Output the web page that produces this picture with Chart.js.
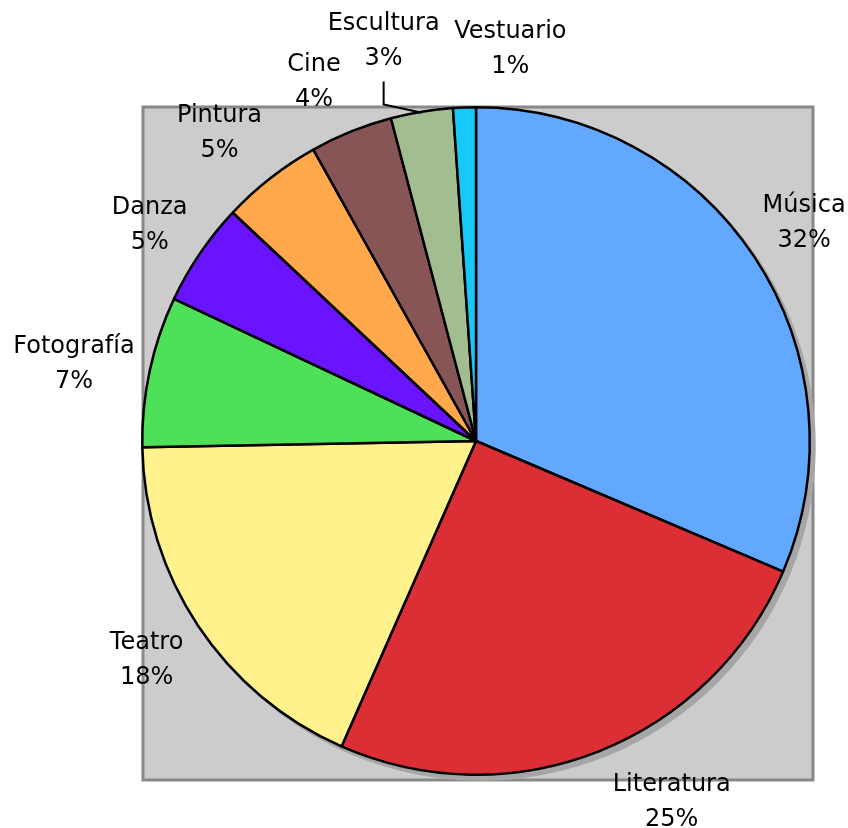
<!DOCTYPE html>
<html>
<head>
<meta charset="utf-8">
<script src="https://cdn.jsdelivr.net/npm/chart.js@4"></script>
<style>
    html, body { margin: 0; padding: 0; background: #fff; }
    #wrap { width: 848px; height: 828px; }
</style>
</head>
<body>
<div id="wrap"><canvas id="myChart" width="848" height="828"></canvas></div>
<script>
'use strict';

// categories and shares (percent), clockwise from 12 o'clock
const categories = ['Música', 'Literatura', 'Teatro', 'Fotografía', 'Danza', 'Pintura', 'Cine', 'Escultura', 'Vestuario'];
const shares = [31.4, 25.2, 18.1, 7.3, 5.0, 4.9, 4.0, 3.0, 1.1];
const percentLabels = ['32%', '25%', '18%', '7%', '5%', '5%', '4%', '3%', '1%'];
const sliceColors = ['#62a8ff', '#dc2f35', '#fff28c', '#4fe05a', '#6a13ff', '#ffa84c', '#875555', '#a2bd8f', '#18c8f8'];

// small hand nudges for the labels that don't sit on the mid-angle
const labelNudge = {
    'Literatura': [50, -7],
    'Escultura': [-28, -9],
    'Vestuario': [48, 4],
    'Cine': [-14, 8],
    'Pintura': [-13, 4],
    'Danza': [1, 7],
    'Fotografía': [-15, 6],
    'Música': [-2, 1],
};

const backdrop = {
    id: 'backdrop',
    beforeDraw(chart) {
        const { ctx, chartArea: a } = chart;
        ctx.save();
        ctx.fillStyle = '#cccccc';
        ctx.fillRect(a.left + 2, a.top + 1, a.width, a.height + 3);
        ctx.strokeStyle = '#888888';
        ctx.lineWidth = 3;
        ctx.strokeRect(a.left + 2, a.top + 1, a.width, a.height + 3);
        ctx.restore();
    },
    beforeDatasetsDraw(chart) {
        const arc = chart.getDatasetMeta(0).data[0];
        if (!arc) return;
        const ctx = chart.ctx;
        ctx.save();
        ctx.fillStyle = '#a6a6a6';
        ctx.beginPath();
        ctx.arc(arc.x + 5, arc.y + 5, arc.outerRadius + 1, 0, Math.PI * 2);
        ctx.fill();
        ctx.restore();
    },
};

const outerLabels = {
    id: 'outerLabels',
    afterDatasetsDraw(chart) {
        const ctx = chart.ctx;
        const meta = chart.getDatasetMeta(0);
        ctx.save();
        ctx.font = '24px "DejaVu Sans"';
        ctx.fillStyle = '#000';
        ctx.textAlign = 'center';
        ctx.textBaseline = 'middle';
        meta.data.forEach((arc, i) => {
            const mid = (arc.startAngle + arc.endAngle) / 2;
            const r = arc.outerRadius + 62;
            const nudge = labelNudge[categories[i]] || [0, 0];
            const x = arc.x + Math.cos(mid) * r + nudge[0];
            const y = arc.y + Math.sin(mid) * r + nudge[1];
            ctx.fillText(categories[i], x, y - 17.5);
            ctx.fillText(percentLabels[i], x, y + 17.5);

            if (categories[i] === 'Escultura') {
                const ex = arc.x + Math.cos(mid) * (arc.outerRadius - 1);
                const ey = arc.y + Math.sin(mid) * (arc.outerRadius - 1);
                ctx.strokeStyle = '#000';
                ctx.lineWidth = 2;
                ctx.beginPath();
                ctx.moveTo(x, y + 40);
                ctx.lineTo(x, y + 63);
                ctx.lineTo(ex, ey);
                ctx.stroke();
            }
        });
        ctx.restore();
    },
};

const data = {
    labels: categories,
    datasets: [
        {
            data: shares,
            backgroundColor: sliceColors,
            borderColor: '#000',
            borderWidth: 2.5,
        },
    ],
};

const myChart = new Chart(document.getElementById('myChart'), {
    type: 'pie',
    data: data,
    options: {
        responsive: false,
        animation: false,
        layout: {
            padding: { left: 141, right: 37, top: 106, bottom: 52 },
        },
        plugins: {
            legend: { display: false },
            tooltip: { enabled: false },
        },
    },
    plugins: [backdrop, outerLabels],
});
</script>
</body>
</html>
